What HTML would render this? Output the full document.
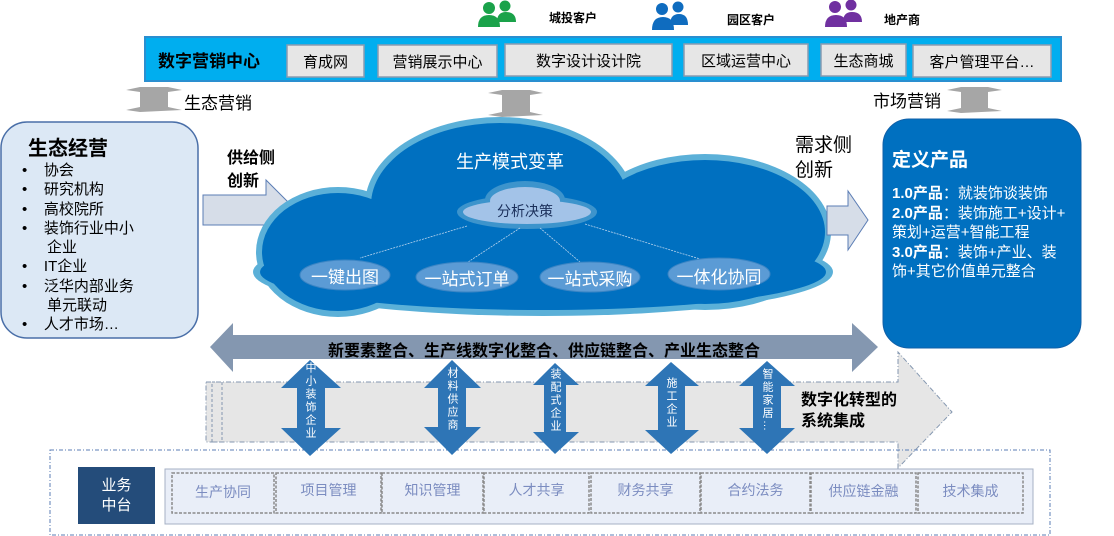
<!DOCTYPE html>
<html><head><meta charset="utf-8">
<style>
*{margin:0;padding:0;box-sizing:border-box}
body{width:1114px;height:536px;background:#fff;position:relative;overflow:hidden;font-family:"Liberation Sans","Noto Sans CJK SC",sans-serif}
.a{position:absolute;white-space:nowrap}
.vt{position:absolute;writing-mode:vertical-rl;color:#fff;font-size:11px;letter-spacing:2px;line-height:12px}
</style></head><body>
<svg width="1114" height="536" style="position:absolute;left:0;top:0">
<g fill="#1aa24a"><circle cx="489" cy="8" r="6"/><circle cx="505" cy="6" r="5.5"/><path d="M478 27 q0 -12 11 -12 q11 0 11 12z"/><path d="M497 22 q0 -10 9 -10 q10 0 10 10z"/></g>
<g fill="#0f6cbf"><circle cx="662" cy="9" r="6"/><circle cx="678" cy="7" r="5.5"/><path d="M652 30 q0 -13 11 -13 q11 0 11 13z"/><path d="M670 25 q0 -11 9 -11 q9 0 9 11z"/></g>
<g fill="#7030a0"><circle cx="835" cy="7" r="6"/><circle cx="851" cy="5" r="5.5"/><path d="M825 27 q0 -12 11 -12 q11 0 11 12z"/><path d="M843 22 q0 -10 9 -10 q10 0 10 10z"/></g>
<rect x="145" y="37" width="916" height="44" fill="#00aeef" stroke="#2a8fd0" stroke-width="2"/>
<g fill="#e6e6e6" stroke="#8a9bb0" stroke-width="1.5">
<rect x="287" y="45" width="77" height="32"/><rect x="378" y="45" width="119" height="32"/>
<rect x="505" y="44" width="167" height="32"/><rect x="684" y="44" width="124" height="32"/>
<rect x="821" y="44" width="85" height="32"/><rect x="913" y="45" width="138" height="32"/></g>
<g fill="#a6a6a6">
<path d="M140 87 L168 87 L182 90 L168 92 L168 107 L182 110 L140 112 L126 110 L140 107 L140 92 L126 90Z"/>
<path d="M502 90 L530 90 L543 93 L530 95 L530 112 L543 115 L502 117 L488 115 L502 112 L502 95 L488 93Z"/>
<path d="M961 87 L988 87 L1002 90 L988 92 L988 108 L1002 111 L961 113 L947 111 L961 108 L961 92 L947 90Z"/>
</g>
<rect x="1" y="122" width="197" height="216" rx="26" fill="#dce8f5" stroke="#4a6fa8" stroke-width="1.5"/>
<path d="M203 195 L266 195 L266 180 L296 210 L266 240 L266 225 L203 225Z" fill="#d6dde8" stroke="#5b7db5" stroke-width="1"/>
<g fill="#5bb0d8">
<ellipse cx="543" cy="272" rx="290" ry="44"/>
<ellipse cx="338" cy="252" rx="82" ry="65"/>
<ellipse cx="500" cy="205" rx="135" ry="88"/>
<ellipse cx="705" cy="232" rx="126" ry="78"/>
</g>
<g fill="#0070c0">
<ellipse cx="543" cy="272" rx="283" ry="38"/>
<ellipse cx="338" cy="252" rx="76" ry="59"/>
<ellipse cx="500" cy="205" rx="129" ry="82"/>
<ellipse cx="705" cy="232" rx="120" ry="72"/>
</g>
<g fill="#3d94cc"><ellipse cx="527" cy="212" rx="70" ry="17"/><ellipse cx="525" cy="200" rx="40" ry="19"/></g>
<g fill="#a3c3e8"><ellipse cx="527" cy="212" rx="64" ry="12"/><ellipse cx="525" cy="201" rx="35" ry="14"/></g>
<g stroke="#b8d4ee" stroke-width="0.8" stroke-dasharray="2,1" fill="none">
<line x1="467" y1="226" x2="360" y2="258"/><line x1="520" y1="228" x2="468" y2="262"/>
<line x1="540" y1="228" x2="580" y2="262"/><line x1="585" y1="224" x2="700" y2="259"/></g>
<g fill="#5b9bd5" stroke="#3b85c4" stroke-width="1">
<ellipse cx="345" cy="275" rx="45" ry="15"/><ellipse cx="467" cy="277" rx="51" ry="15"/>
<ellipse cx="590" cy="277" rx="50" ry="15"/><ellipse cx="719" cy="274" rx="51" ry="16"/></g>
<path d="M827 206 L848 206 L848 191 L868 220 L848 250 L848 235 L827 235Z" fill="#d6dde8" stroke="#5b7db5" stroke-width="1"/>
<rect x="883" y="119" width="198" height="229" rx="26" fill="#0070c0" stroke="#1060a8" stroke-width="1"/>
<path d="M206 382 L898 382 L898 352 L952 412 L898 468 L898 442 L206 442Z" fill="#e6e6e6" stroke="#8497b0" stroke-width="1" stroke-dasharray="5,2,1,2"/>
<rect x="212" y="382" width="10" height="60" fill="none" stroke="#8497b0" stroke-width="1" stroke-dasharray="3,2"/>
<path d="M210 347 L233 323 L233 335 L852 335 L852 323 L878 347 L852 372 L852 359 L233 359 L233 372Z" fill="#8497b0"/>
<rect x="50" y="450" width="1000" height="85" fill="none" stroke="#5b7db5" stroke-width="1" stroke-dasharray="4,2,1,2"/>
<rect x="165" y="469" width="868" height="55" fill="#e9eef8" stroke="#a6b0c4" stroke-width="1"/>
<rect x="78" y="467" width="77" height="57" fill="#244c7a"/>
<g fill="#e9eef8" stroke="#8a8a8a" stroke-width="1.5" stroke-dasharray="3,1.5">
<rect x="172" y="473" width="102" height="40"/><rect x="276" y="473" width="105" height="40"/>
<rect x="382" y="473" width="101" height="40"/><rect x="484" y="473" width="105" height="40"/>
<rect x="591" y="473" width="109" height="40"/><rect x="701" y="473" width="109" height="40"/>
<rect x="811" y="473" width="105" height="40"/><rect x="918" y="473" width="105" height="40"/></g>
<g fill="#2e75b6">
<path d="M310 360 L341 388 L325 388 L325 428 L341 428 L310 456 L281 428 L297 428 L297 388 L281 388Z"/>
<path d="M452 360 L481 388 L466 388 L466 427 L481 427 L452 455 L424 427 L438 427 L438 388 L424 388Z"/>
<path d="M555 363 L579 385 L566 385 L566 432 L579 432 L555 454 L533 432 L544 432 L544 385 L533 385Z"/>
<path d="M671 362 L699 386 L685 386 L685 430 L699 430 L671 454 L645 430 L658 430 L658 386 L645 386Z"/>
<path d="M767 361 L795 386 L781 386 L781 428 L795 428 L767 454 L739 428 L753 428 L753 386 L739 386Z"/>
</g>
</svg>
<div class="a" style="left:549px;top:9px;font-size:12px;font-weight:bold">城投客户</div>
<div class="a" style="left:727px;top:11px;font-size:12px;font-weight:bold">园区客户</div>
<div class="a" style="left:884px;top:11px;font-size:12px;font-weight:bold">地产商</div>
<div class="a" style="left:158px;top:47px;font-size:17px;font-weight:bold">数字营销中心</div>
<div class="a" style="left:287px;top:51px;width:77px;text-align:center;font-size:15px">育成网</div>
<div class="a" style="left:378px;top:51px;width:119px;text-align:center;font-size:15px">营销展示中心</div>
<div class="a" style="left:505px;top:50px;width:167px;text-align:center;font-size:15px">数字设计设计院</div>
<div class="a" style="left:684px;top:50px;width:124px;text-align:center;font-size:15px">区域运营中心</div>
<div class="a" style="left:821px;top:50px;width:85px;text-align:center;font-size:15px">生态商城</div>
<div class="a" style="left:913px;top:51px;width:138px;text-align:center;font-size:15px">客户管理平台…</div>
<div class="a" style="left:184px;top:89px;font-size:17px">生态营销</div>
<div class="a" style="left:873px;top:87px;font-size:17px">市场营销</div>
<div class="a" style="left:28px;top:132px;font-size:20px;font-weight:bold">生态经营</div>
<div class="a" style="left:22px;top:161px;font-size:15px;line-height:19.3px">
• &nbsp;&nbsp;&nbsp;协会<br>• &nbsp;&nbsp;&nbsp;研究机构<br>• &nbsp;&nbsp;&nbsp;高校院所<br>• &nbsp;&nbsp;&nbsp;装饰行业中小<br>&nbsp;&nbsp;&nbsp;&nbsp;&nbsp;&nbsp;企业<br>• &nbsp;&nbsp;&nbsp;IT企业<br>• &nbsp;&nbsp;&nbsp;泛华内部业务<br>&nbsp;&nbsp;&nbsp;&nbsp;&nbsp;&nbsp;单元联动<br>• &nbsp;&nbsp;&nbsp;人才市场…</div>
<div class="a" style="left:227px;top:147px;font-size:16px;font-weight:bold;line-height:23px">供给侧<br>创新</div>
<div class="a" style="left:456px;top:148px;font-size:18px;color:#fff">生产模式变革</div>
<div class="a" style="left:497px;top:201px;font-size:14px;color:#1a2f5a">分析决策</div>
<div class="a" style="left:300px;top:263px;width:90px;text-align:center;font-size:17px;color:#fff">一键出图</div>
<div class="a" style="left:416px;top:265px;width:102px;text-align:center;font-size:17px;color:#fff">一站式订单</div>
<div class="a" style="left:540px;top:265px;width:100px;text-align:center;font-size:17px;color:#fff">一站式采购</div>
<div class="a" style="left:668px;top:263px;width:102px;text-align:center;font-size:17px;color:#fff">一体化协同</div>
<div class="a" style="left:795px;top:133px;font-size:19px;line-height:25px">需求侧<br>创新</div>
<div class="a" style="left:892px;top:145px;font-size:19px;font-weight:bold;color:#fff">定义产品</div>
<div class="a" style="left:892px;top:184px;font-size:15px;color:#fff;line-height:19.5px"><b>1.0产品</b>：就装饰谈装饰<br><b>2.0产品</b>：装饰施工+设计+<br>策划+运营+智能工程<br><b>3.0产品</b>：装饰+产业、装<br>饰+其它价值单元整合</div>
<div class="a" style="left:210px;top:337px;width:668px;text-align:center;font-size:16px;font-weight:bold">新要素整合、生产线数字化整合、供应链整合、产业生态整合</div>
<div class="a" style="left:801px;top:390px;font-size:16px;font-weight:bold;line-height:21px">数字化转型的<br>系统集成</div>
<div class="vt" style="left:304px;top:362px">中小装饰企业</div>
<div class="vt" style="left:446px;top:367px">材料供应商</div>
<div class="vt" style="left:549px;top:368px">装配式企业</div>
<div class="vt" style="left:665px;top:377px">施工企业</div>
<div class="vt" style="left:761px;top:368px">智能家居…</div>
<div class="a" style="left:78px;top:476px;width:77px;text-align:center;font-size:15px;color:#fff;line-height:20px">业务<br>中台</div>
<div class="a" style="left:172px;top:482px;width:102px;text-align:center;font-size:14px;color:#7b8cc0">生产协同</div>
<div class="a" style="left:276px;top:480px;width:105px;text-align:center;font-size:14px;color:#7b8cc0">项目管理</div>
<div class="a" style="left:382px;top:480px;width:101px;text-align:center;font-size:14px;color:#7b8cc0">知识管理</div>
<div class="a" style="left:484px;top:480px;width:105px;text-align:center;font-size:14px;color:#7b8cc0">人才共享</div>
<div class="a" style="left:591px;top:480px;width:109px;text-align:center;font-size:14px;color:#7b8cc0">财务共享</div>
<div class="a" style="left:701px;top:480px;width:109px;text-align:center;font-size:14px;color:#7b8cc0">合约法务</div>
<div class="a" style="left:811px;top:481px;width:105px;text-align:center;font-size:14px;color:#7b8cc0">供应链金融</div>
<div class="a" style="left:918px;top:481px;width:105px;text-align:center;font-size:14px;color:#7b8cc0">技术集成</div>
</body></html>
